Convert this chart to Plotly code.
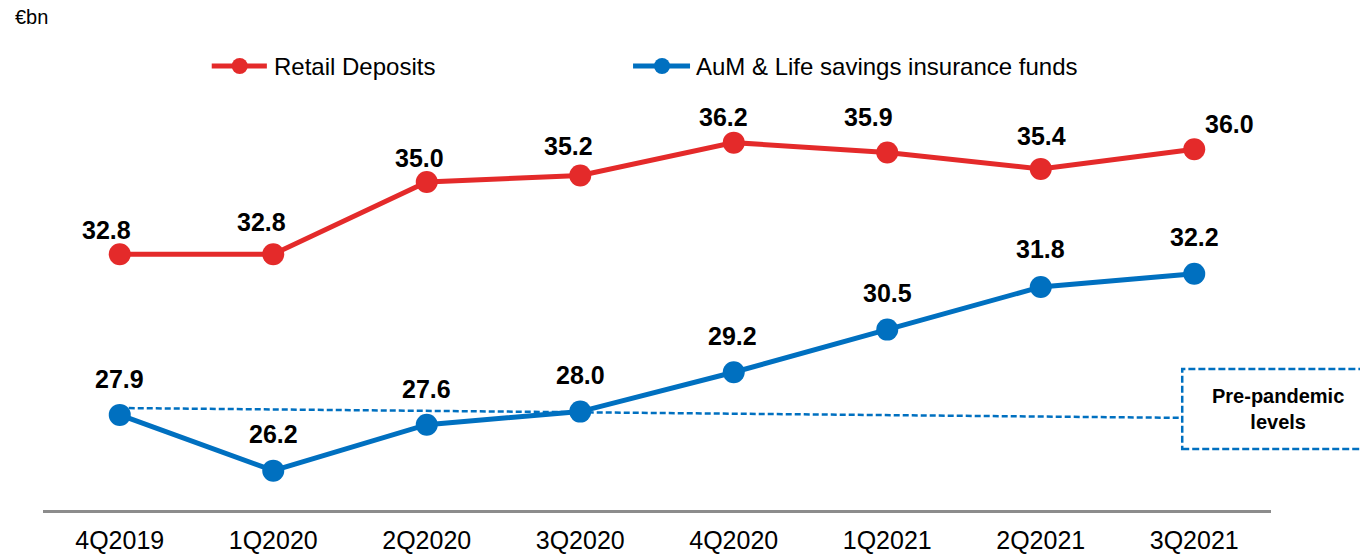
import plotly.graph_objects as go

# ---------------- data ----------------
quarters = ["4Q2019", "1Q2020", "2Q2020", "3Q2020", "4Q2020", "1Q2021", "2Q2021", "3Q2021"]
retail_deposits = [32.8, 32.8, 35.0, 35.2, 36.2, 35.9, 35.4, 36.0]
aum_life = [27.9, 26.2, 27.6, 28.0, 29.2, 30.5, 31.8, 32.2]
series_names = ["Retail Deposits", "AuM & Life savings insurance funds"]
unit_label = "€bn"
prepandemic_text = "Pre-pandemic<br>levels"

# ---------------- styles ----------------
RED = "#E42A2A"
BLUE = "#0070C0"
FONT = "Arial, Liberation Sans, sans-serif"

# label offsets (pixels) relative to each point
red_label_dx = [-13, -12, -7, -12, -10, -19, 1, 35]
red_label_dy = [24, 32, 24, 29, 26, 35, 33, 25]
blue_label_dx = [0, 0, 0, 0, -1, 0, 0, 0]
blue_label_dy = [36, 37, 36, 37, 36, 37, 38, 37]

fig = go.Figure()
fig.add_trace(go.Scatter(
    x=quarters, y=retail_deposits, mode="lines+markers", name=series_names[0],
    line=dict(color=RED, width=5), marker=dict(color=RED, size=22),
    showlegend=False, cliponaxis=False))
fig.add_trace(go.Scatter(
    x=quarters, y=aum_life, mode="lines+markers", name=series_names[1],
    line=dict(color=BLUE, width=5), marker=dict(color=BLUE, size=22),
    showlegend=False, cliponaxis=False))

annotations = []
for i, q in enumerate(quarters):
    annotations.append(dict(x=q, y=retail_deposits[i], xref="x", yref="y",
                            text=f"<b>{retail_deposits[i]:.1f}</b>", showarrow=False,
                            xshift=red_label_dx[i], yshift=red_label_dy[i],
                            xanchor="center", yanchor="middle",
                            font=dict(family=FONT, size=25, color="#000000")))
    annotations.append(dict(x=q, y=aum_life[i], xref="x", yref="y",
                            text=f"<b>{aum_life[i]:.1f}</b>", showarrow=False,
                            xshift=blue_label_dx[i], yshift=blue_label_dy[i],
                            xanchor="center", yanchor="middle",
                            font=dict(family=FONT, size=25, color="#000000")))

# unit label
annotations.append(dict(x=-0.0247, y=1.2024, xref="paper", yref="paper", text=unit_label,
                        showarrow=False, xanchor="left", yanchor="middle",
                        font=dict(family=FONT, size=20, color="#000000")))
# legend texts
annotations.append(dict(x=0.1863, y=1.0829, xref="paper", yref="paper", text=series_names[0],
                        showarrow=False, xanchor="left", yanchor="middle",
                        font=dict(family=FONT, size=24, color="#000000")))
annotations.append(dict(x=0.5302, y=1.0829, xref="paper", yref="paper", text=series_names[1],
                        showarrow=False, xanchor="left", yanchor="middle",
                        font=dict(family=FONT, size=24, color="#000000")))
# pre-pandemic box text
annotations.append(dict(x=1.0053, y=0.2463, xref="paper", yref="paper", text=f"<b>{prepandemic_text}</b>",
                        showarrow=False, xanchor="center", yanchor="middle", align="center",
                        font=dict(family=FONT, size=20, color="#000000")))

shapes = []
# legend lines and markers
for (x0, x1, xm, col) in [(0.1374, 0.1823, 0.1602, RED), (0.4805, 0.5269, 0.5041, BLUE)]:
    shapes.append(dict(type="line", xref="paper", yref="paper", x0=x0, x1=x1, y0=1.0829, y1=1.0829,
                       line=dict(color=col, width=5)))
    shapes.append(dict(type="circle", xref="paper", yref="paper", xsizemode="pixel", ysizemode="pixel",
                       xanchor=xm, yanchor=1.0829, x0=-8, x1=8, y0=-8, y1=8,
                       fillcolor=col, line=dict(color=col, width=0)))
# pre-pandemic dashed reference line
shapes.append(dict(type="line", xref="x", yref="y", x0=0, x1=6.92, y0=28.11, y1=27.81,
                   line=dict(color=BLUE, width=2.5, dash="6px,3px"), layer="below"))
# pre-pandemic dashed box
shapes.append(dict(type="rect", xref="paper", yref="paper", x0=0.9277, x1=1.10, y0=0.1488, y1=0.3439,
                   line=dict(color=BLUE, width=2.5, dash="7px,3px"), fillcolor="rgba(0,0,0,0)"))

fig.update_layout(
    width=1360, height=554,
    margin=dict(l=43, r=89, t=100, b=44),
    paper_bgcolor="white", plot_bgcolor="white",
    font=dict(family=FONT, color="#000000"),
    annotations=annotations, shapes=shapes,
    xaxis=dict(type="category", range=[-0.5, 7.5], showgrid=False, zeroline=False,
               automargin=False,
               showline=True, linecolor="#8C8C8C", linewidth=2.5,
               ticks="outside", ticklen=6, tickcolor="rgba(0,0,0,0)",
               tickfont=dict(family=FONT, size=25, color="#000000")),
    yaxis=dict(range=[25, 37.5], showgrid=False, zeroline=False, showline=False,
               automargin=False, showticklabels=False, ticks=""),
)

fig.write_html("out.html", config={"displayModeBar": False},
               post_script="document.body.style.margin='0';document.body.style.overflow='hidden';")
